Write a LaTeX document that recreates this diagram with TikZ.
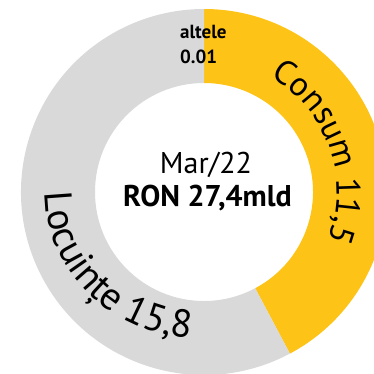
\documentclass[tikz,border=0pt]{standalone}
\usepackage{fontspec}
\setmainfont{PT Sans}
\usetikzlibrary{decorations.text}

\definecolor{consumcol}{RGB}{254,195,23}
\definecolor{locuintecol}{RGB}{217,217,217}
\newcommand{\ringfont}{\fontsize{34}{40}\selectfont}
\newcommand{\ringfontbig}{\fontsize{39}{46}\selectfont}
\tikzset{
  arclabel/.style={decorate, decoration={text along path, text align=left, text={#1}}},
  midtext/.style={anchor=base, inner sep=0pt, font=\fontsize{30}{36}\selectfont},
  smalltext/.style={anchor=base west, inner sep=0pt, font=\fontsize{19}{23}\selectfont\bfseries}
}

\begin{document}
\begin{tikzpicture}
    \useasboundingbox (-204pt,-181pt) rectangle (170pt,192pt);
    \clip (-204pt,-181pt) rectangle (170pt,192pt);
    \coordinate (O) at (0,0);

    \fill[consumcol] (90:183pt) arc[start angle=90, end angle=-62, radius=183pt]
        -- (-62:109pt) arc[start angle=-62, end angle=90, radius=109pt] -- cycle;
    \fill[locuintecol] (-62:183pt) arc[start angle=-62, end angle=-270, radius=183pt]
        -- (90:109pt) arc[start angle=90, end angle=298, radius=109pt] -- cycle;

    \path[arclabel={|\ringfont|Consum 11,5}] (60:133pt) arc[start angle=60, end angle=-50, radius=133pt];
    \path[arclabel={|\ringfontbig|Locuințe 15,8}] (180:159pt and 147pt) arc[start angle=180, end angle=290, x radius=159pt, y radius=147pt];

    \node[midtext] (month) at (2pt,19pt) {Mar/22};
    \node[midtext, font=\fontsize{30}{36}\selectfont\bfseries] (total) at (3.5pt,-14pt) {RON 27,4mld};
    \node[smalltext] (other) at (-24pt,154pt) {altele};
    \node[smalltext] (otherval) at (-24pt,129pt) {0.01};
\end{tikzpicture}
\end{document}
